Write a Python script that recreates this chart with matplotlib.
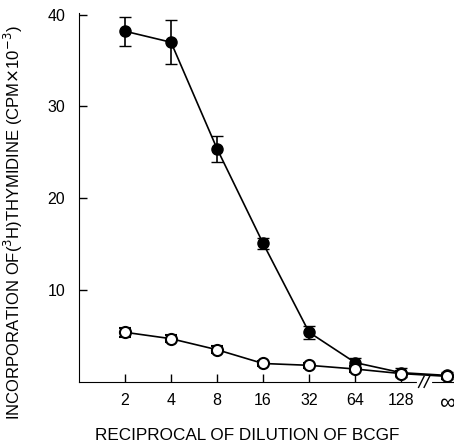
import matplotlib.pyplot as plt

plt.rcParams['font.family'] = ['Liberation Sans', 'DejaVu Sans']

# x categories (reciprocal of dilution)
dilutions = ['2', '4', '8', '16', '32', '64', '128', '\u221e']

# filled circles
bcgf_mean = [38.2, 37.0, 25.4, 15.1, 5.4, 2.1, 1.0, 0.7]
bcgf_err = [1.6, 2.4, 1.4, 0.6, 0.7, 0.5, 0.5, 0.4]

# open circles
ctrl_mean = [5.4, 4.7, 3.5, 2.0, 1.8, 1.4, 0.9, 0.6]
ctrl_err = [0.5, 0.4, 0.4, 0.3, 0.3, 0.3, 0.3, 0.3]

fig = plt.figure(figsize=(4.54, 4.44), dpi=100)
ax = fig.add_axes([0.174, 0.14, 0.826, 0.831])

xs = list(range(1, len(dilutions) + 1))

ax.errorbar(xs, bcgf_mean, yerr=bcgf_err, fmt='o-', color='k', mfc='k',
            ms=8, lw=1.2, capsize=4, elinewidth=1.2, zorder=3)
ax.errorbar(xs, ctrl_mean, yerr=ctrl_err, fmt='o-', color='k', mfc='white',
            mew=1.5, ms=8, lw=1.2, capsize=4, elinewidth=1.2, zorder=4)

ax.set_xlim(0, 8.15)
ax.set_ylim(0, 40.2)
ax.set_xticks(xs)
ax.set_xticklabels(dilutions)
ax.set_yticks([10, 20, 30, 40])
ax.tick_params(direction='in', length=6, width=1, labelsize=11.5, pad=8)
ax.tick_params(axis='y', pad=10)
# the infinity sign is drawn larger in the original
ax.get_xticklabels()[-1].set_fontsize(16)

for s in ['top', 'right']:
    ax.spines[s].set_visible(False)

# axis break between 128 and infinity
bx = 7.5
ax.plot([bx - 0.12, bx + 0.12], [0, 0], color='white', lw=3,
        clip_on=False, zorder=5)
for dx in (-0.06, 0.06):
    ax.plot([bx + dx - 0.06, bx + dx + 0.06], [-0.6, 0.6], color='k', lw=1,
            clip_on=False, zorder=6)

ax.set_xlabel('RECIPROCAL OF DILUTION OF BCGF', fontsize=12.3)
ax.set_ylabel(r'INCORPORATION OF($^3$H)THYMIDINE (CPM$\times$10$^{-3}$)',
              fontsize=12)
ax.xaxis.set_label_coords(0.448, -0.125)
ax.yaxis.set_label_coords(-0.145, 0.43)

fig.savefig('out.png', dpi=100)
